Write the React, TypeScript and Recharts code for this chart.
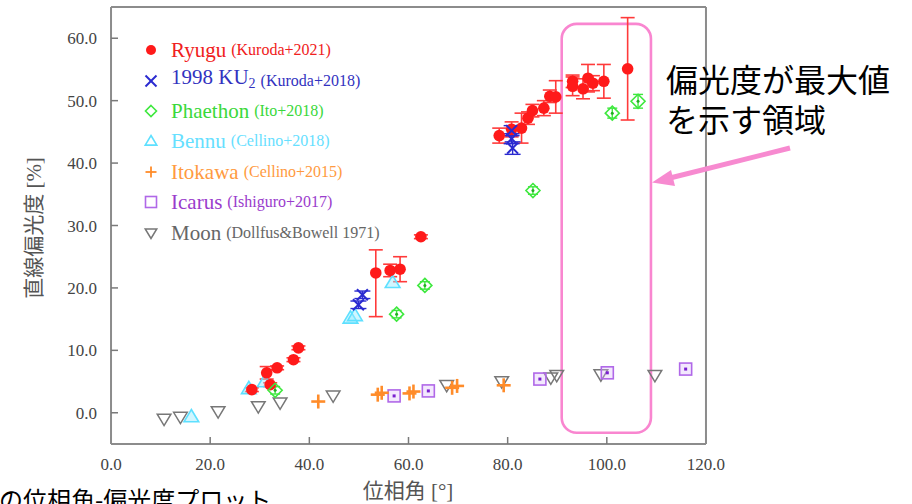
import { ErrorBar, ReferenceArea, Scatter, ScatterChart, XAxis, YAxis } from 'recharts'

// phase angle [deg] / linear polarization [%]
const ryuguPhase = [28.4, 31.4, 32.1, 33.5, 36.8, 37.8, 53.4, 56.3, 58.3, 62.5, 78.3, 80.8, 82.8, 84.1, 85.0, 87.3, 88.5, 89.7, 93.1, 93.1, 95.2, 96.2, 97.2, 99.4, 104.2]
const ryuguPol = [3.7, 6.4, 4.5, 7.2, 8.5, 10.4, 22.4, 22.8, 23.0, 28.2, 44.4, 45.4, 45.6, 47.2, 48.4, 48.8, 50.7, 50.6, 53.1, 52.3, 51.9, 53.6, 52.8, 53.1, 55.1]
const ryuguErr: Array<number | [number, number]> = [0.3, 1.0, 0.3, 0.3, 0.3, 0.3, [7.0, 3.7], 1.0, 2.0, 0.3, 1.2, 1.2, 2.4, 1.0, 1.0, 1.2, 1.0, 2.6, 1.0, 1.5, 1.6, 2.2, 1.2, 2.7, 8.2]

const ku2Phase = [49.9, 50.7, 80.8, 80.8, 81.0]
const ku2Pol = [17.3, 18.9, 45.2, 43.9, 42.4]
const ku2Err = [0.6, 0.6, 0.8, 0.8, 1.0]

const phaethonPhase = [33.1, 57.6, 63.3, 85.1, 101.1, 106.3]
const phaethonPol = [3.6, 15.8, 20.4, 35.6, 48.0, 49.9]
const phaethonErr = [0.6, 0.6, 0.6, 0.6, 0.8, 1.1]

const bennuPhase = [16.2, 27.8, 31.0, 48.3, 49.2, 56.8]
const bennuPol = [-0.6, 3.9, 5.0, 15.2, 15.6, 20.9]

const itokawaPhase = [41.8, 53.8, 54.6, 60.2, 61.0, 68.8, 69.8, 79.2]
const itokawaPol = [1.8, 2.9, 3.2, 3.1, 3.4, 4.0, 4.3, 4.4]

const icarusPhase = [57.1, 64.0, 86.5, 100.1, 115.9]
const icarusPol = [2.7, 3.5, 5.4, 6.4, 7.0]

const moonPhase = [10.7, 14.0, 21.6, 29.7, 34.1, 44.8, 67.7, 78.8, 88.7, 89.9, 98.8, 109.7]
const moonPol = [-1.0, -0.7, 0.2, 1.0, 1.6, 2.7, 4.4, 5.0, 5.6, 6.0, 6.1, 6.0]

const xMajor = [0, 20, 40, 60, 80, 100, 120]
const xMinor = [0, 5, 10, 15, 20, 25, 30, 35, 40, 45, 50, 55, 60, 65, 70, 75, 80, 85, 90, 95, 100, 105, 110, 115, 120]
const yMajor = [0, 10, 20, 30, 40, 50, 60]
const yMinor = [-4, -2, 0, 2, 4, 6, 8, 10, 12, 14, 16, 18, 20, 22, 24, 26, 28, 30, 32, 34, 36, 38, 40, 42, 44, 46, 48, 50, 52, 54, 56, 58, 60, 62, 64]

// the region where polarization peaks
const peakRegion = { x1: 90.9, x2: 108.9, y1: -3.2, y2: 62.3 }

type Kind = 'dot' | 'x' | 'diamond' | 'tri' | 'plus' | 'square' | 'tridown'

interface Legend {
  name: string
  sub?: string
  cite: string
  kind: Kind
  color: string
  text: string
}

const legendRows: Legend[] = [
  { name: 'Ryugu', cite: '(Kuroda+2021)', kind: 'dot', color: '#ff1a1a', text: '#f02020' },
  { name: '1998 KU', sub: '2', cite: '(Kuroda+2018)', kind: 'x', color: '#2a2ad0', text: '#3232c0' },
  { name: 'Phaethon', cite: '(Ito+2018)', kind: 'diamond', color: '#3ee83e', text: '#3ad83a' },
  { name: 'Bennu', cite: '(Cellino+2018)', kind: 'tri', color: '#5ee0ff', text: '#66e0ff' },
  { name: 'Itokawa', cite: '(Cellino+2015)', kind: 'plus', color: '#ff8c2a', text: '#ff9a40' },
  { name: 'Icarus', cite: '(Ishiguro+2017)', kind: 'square', color: '#b068e8', text: '#9a3ccc' },
  { name: 'Moon', cite: '(Dollfus&Bowell 1971)', kind: 'tridown', color: '#777', text: '#666' },
]

function table(xs: number[], ys: number[], errs?: Array<number | [number, number]>) {
  return xs.map((x, i) => ({ x, y: ys[i], err: errs ? errs[i] : 0 }))
}

function marker(kind: Kind, cx: number, cy: number, color: string, s: number, center = false) {
  switch (kind) {
    case 'dot':
      return <circle cx={cx} cy={cy} r={s} fill={color} />
    case 'x':
      return (
        <g stroke={color} strokeWidth={2}>
          <line x1={cx - s} y1={cy - s} x2={cx + s} y2={cy + s} />
          <line x1={cx - s} y1={cy + s} x2={cx + s} y2={cy - s} />
        </g>
      )
    case 'diamond':
      return (
        <g>
          <polygon points={`${cx},${cy - s} ${cx + s},${cy} ${cx},${cy + s} ${cx - s},${cy}`} fill="none" stroke={color} strokeWidth={1.6} />
          {center && <circle cx={cx} cy={cy} r={1.5} fill="#20b020" />}
        </g>
      )
    case 'tri':
      return (
        <polygon
          points={`${cx},${cy - s} ${cx + s * 1.05},${cy + s * 0.75} ${cx - s * 1.05},${cy + s * 0.75}`}
          fill={center ? 'rgba(150,235,255,0.45)' : 'none'}
          stroke={color}
          strokeWidth={1.6}
        />
      )
    case 'plus':
      return (
        <g stroke={color} strokeWidth={center ? 2.6 : 1.8}>
          <line x1={cx - s} y1={cy} x2={cx + s} y2={cy} />
          <line x1={cx} y1={cy - s} x2={cx} y2={cy + s} />
        </g>
      )
    case 'square':
      return (
        <g>
          <rect x={cx - s} y={cy - s} width={s * 2} height={s * 2} fill={center ? 'rgba(220,190,250,0.35)' : 'none'} stroke={color} strokeWidth={1.6} />
          {center && <rect x={cx - 1.5} y={cy - 1.5} width={3} height={3} fill="#7a1fd0" />}
        </g>
      )
    default:
      return (
        <polygon
          points={`${cx - s * 1.05},${cy - s * 0.75} ${cx + s * 1.05},${cy - s * 0.75} ${cx},${cy + s}`}
          fill="none"
          stroke={color}
          strokeWidth={1.5}
        />
      )
  }
}

const shape = (kind: Kind, color: string, s: number) => (p: any) => marker(kind, p.cx, p.cy, color, s, true)

const serif = "'Liberation Serif', 'Noto Sans CJK JP', serif"
const cjk = "'Noto Sans CJK JP', sans-serif"
const frame = { stroke: '#8c8c8c', strokeWidth: 2 }
const tickLine = { stroke: '#7a7a7a', strokeWidth: 1.5 }
const fmt = (v: number) => v.toFixed(1)
// axes take (almost) no room: the plot box comes from the margins
const thin = 0.01

const xTick = (p: any) => (
  <text x={p.x} y={p.y} dy="0.71em" textAnchor="middle" fill="#444" fontSize={17} fontFamily="Liberation Serif">
    {fmt(p.payload.value)}
  </text>
)
const yTick = (p: any) => (
  <text x={p.x} y={p.y} dy="0.355em" textAnchor="end" fill="#444" fontSize={17} fontFamily="Liberation Serif">
    {fmt(p.payload.value)}
  </text>
)

export default function App() {
  return (
    <div style={{ position: 'fixed', left: 0, top: 0, width: 912, height: 504, overflow: 'hidden', background: '#fff', fontFamily: serif }}>
      <ScatterChart width={912} height={504} margin={{ top: 7, right: 206, bottom: 60, left: 111 }}>
        <XAxis xAxisId="x" dataKey="x" type="number" domain={[0, 120]} allowDataOverflow ticks={xMajor} interval={0} height={thin}
          tickSize={-7} tickMargin={21} axisLine={frame} tickLine={tickLine} tick={xTick} />
        <XAxis xAxisId="xb" type="number" domain={[0, 120]} allowDataOverflow ticks={xMinor} interval={0} height={thin}
          tickSize={-4} tick={false} axisLine={false} tickLine={tickLine} />
        <XAxis xAxisId="xt" orientation="top" type="number" domain={[0, 120]} allowDataOverflow ticks={xMajor} interval={0} height={thin}
          tickSize={-7} tick={false} axisLine={frame} tickLine={tickLine} />
        <XAxis xAxisId="xt2" orientation="top" type="number" domain={[0, 120]} allowDataOverflow ticks={xMinor} interval={0} height={thin}
          tickSize={-4} tick={false} axisLine={false} tickLine={tickLine} />
        <YAxis yAxisId="y" dataKey="y" type="number" domain={[-5, 65]} allowDataOverflow ticks={yMajor} interval={0} width={thin}
          tickSize={-7} tickMargin={21} axisLine={frame} tickLine={tickLine} tick={yTick} />
        <YAxis yAxisId="yl" type="number" domain={[-5, 65]} allowDataOverflow ticks={yMinor} interval={0} width={thin}
          tickSize={-4} tick={false} axisLine={false} tickLine={tickLine} />
        <YAxis yAxisId="yr" orientation="right" type="number" domain={[-5, 65]} allowDataOverflow ticks={yMajor} interval={0} width={thin}
          tickSize={-7} tick={false} axisLine={frame} tickLine={tickLine} />
        <YAxis yAxisId="yr2" orientation="right" type="number" domain={[-5, 65]} allowDataOverflow ticks={yMinor} interval={0} width={thin}
          tickSize={-4} tick={false} axisLine={false} tickLine={tickLine} />

        <Scatter xAxisId="x" yAxisId="y" data={table(moonPhase, moonPol)} shape={shape('tridown', '#777', 6.5)} isAnimationActive={false} />
        <Scatter xAxisId="x" yAxisId="y" data={table(icarusPhase, icarusPol)} shape={shape('square', '#b068e8', 6)} isAnimationActive={false} />
        <Scatter xAxisId="x" yAxisId="y" data={table(itokawaPhase, itokawaPol)} shape={shape('plus', '#ff8c2a', 7)} isAnimationActive={false} />
        <Scatter xAxisId="x" yAxisId="y" data={table(bennuPhase, bennuPol)} shape={shape('tri', '#5ee0ff', 7)} isAnimationActive={false} />
        <Scatter xAxisId="x" yAxisId="y" data={table(ryuguPhase, ryuguPol, ryuguErr)} shape={shape('dot', '#ff1a1a', 5.8)} isAnimationActive={false}>
          <ErrorBar dataKey="err" direction="y" stroke="#ff3a3a" strokeWidth={1.6} width={7} />
        </Scatter>
        <Scatter xAxisId="x" yAxisId="y" data={table(phaethonPhase, phaethonPol, phaethonErr)} shape={shape('diamond', '#3ee83e', 7)} isAnimationActive={false}>
          <ErrorBar dataKey="err" direction="y" stroke="#3ee83e" strokeWidth={1.4} width={5} />
        </Scatter>
        <Scatter xAxisId="x" yAxisId="y" data={table(ku2Phase, ku2Pol, ku2Err)} shape={shape('x', '#2a2ad0', 5.5)} isAnimationActive={false}>
          <ErrorBar dataKey="err" direction="y" stroke="#2a2ad0" strokeWidth={1.4} width={8} />
        </Scatter>

        <ReferenceArea xAxisId="x" yAxisId="y" {...peakRegion} ifOverflow="visible"
          shape={(p: any) => <rect x={p.x} y={p.y} width={p.width} height={p.height} rx={15} fill="none" stroke="#f986d0" strokeWidth={2.6} />} />
      </ScatterChart>

      <div style={{ position: 'absolute', left: 140, top: 35 }}>
        {legendRows.map((r) => (
          <div key={r.name} style={{ display: 'flex', alignItems: 'center', height: 30.4, whiteSpace: 'nowrap' }}>
            <svg width={22} height={22} style={{ marginRight: 9 }}>
              {marker(r.kind, 11, 11, r.color, r.kind === 'dot' ? 5 : 5.5)}
            </svg>
            <span style={{ fontFamily: serif, fontSize: 21, color: r.text, lineHeight: '24px' }}>
              {r.name}
              {r.sub && <sub style={{ fontSize: 14, verticalAlign: -4 }}>{r.sub}</sub>}
            </span>
            <span style={{ fontFamily: serif, fontSize: 16, color: r.text, marginLeft: 5, lineHeight: '24px' }}>{r.cite}</span>
          </div>
        ))}
      </div>

      <div style={{ position: 'absolute', left: 32, top: 228, transform: 'translate(-50%, -50%) rotate(-90deg)', whiteSpace: 'nowrap', fontFamily: serif, fontSize: 21, color: '#555' }}>
        直線偏光度 [%]
      </div>
      <div style={{ position: 'absolute', left: 308, width: 200, top: 478, textAlign: 'center', fontFamily: serif, fontSize: 21, lineHeight: '26px', color: '#555' }}>
        位相角 [°]
      </div>

      <div style={{ position: 'absolute', left: 666, top: 62, fontFamily: cjk, fontSize: 32, lineHeight: '32px', color: '#000', whiteSpace: 'nowrap' }}>
        偏光度が最大値
      </div>
      <div style={{ position: 'absolute', left: 666, top: 102, fontFamily: cjk, fontSize: 32, lineHeight: '32px', color: '#000', whiteSpace: 'nowrap' }}>
        を示す領域
      </div>
      <svg width={912} height={504} style={{ position: 'absolute', left: 0, top: 0, pointerEvents: 'none' }}>
        <line x1={790} y1={148} x2={668} y2={178.5} stroke="#f78ad0" strokeWidth={5} />
        <polygon points="652,182.5 671,170 675,186" fill="#f78ad0" />
      </svg>

      <div style={{ position: 'absolute', left: -1, top: 484, fontFamily: cjk, fontSize: 24, lineHeight: '30px', color: '#000', whiteSpace: 'nowrap' }}>
        の位相角-偏光度プロット
      </div>
    </div>
  )
}
